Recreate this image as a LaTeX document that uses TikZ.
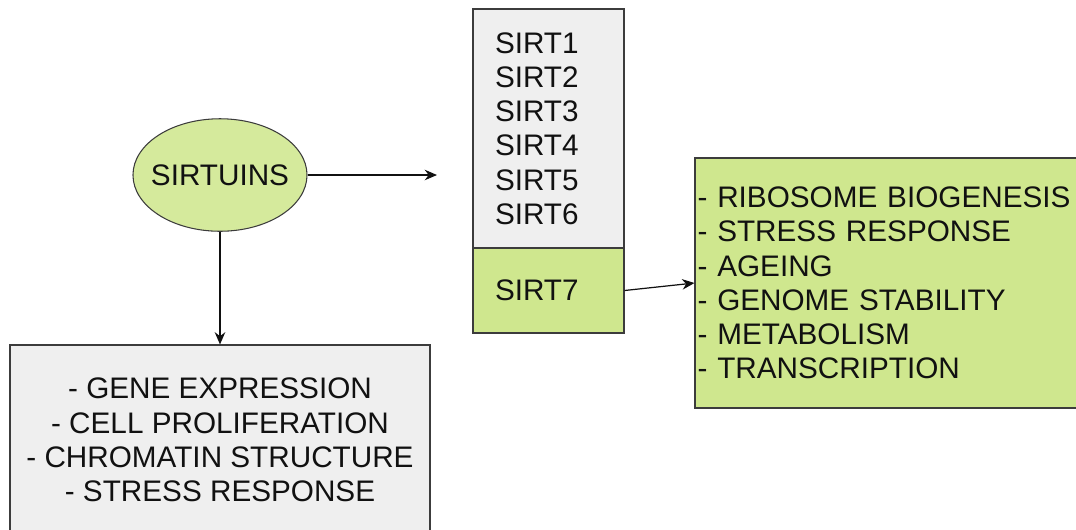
\documentclass[tikz,border=0pt]{standalone}
\usepackage{fontspec}
\setmainfont{Liberation Sans}
\usepackage{tikz}
\usetikzlibrary{shapes.geometric, arrows.meta, positioning}
\usepackage{xcolor}
\definecolor{SirtGreen}{HTML}{CFE78E}
\definecolor{SirtLightGreen}{HTML}{D5EA9C}
\definecolor{SirtGrey}{HTML}{EFEFEF}
\definecolor{SirtBorder}{HTML}{3C3C3C}
\definecolor{SirtText}{HTML}{111111}
\tikzset{
    % Node styles
    sirtellipse/.style={
        ellipse,
        draw=SirtBorder,
        fill=SirtLightGreen,
        line width=0.6pt,
        minimum width=3.48cm,
        minimum height=2.25cm,
        inner xsep=-0.15cm,
        inner ysep=0pt,
        text=SirtText,
        font=\fontsize{16.9}{19.5}\selectfont
    },
    greybox/.style={
        rectangle,
        draw=SirtBorder,
        fill=SirtGrey,
        line width=0.6pt,
        text=SirtText,
        font=\fontsize{16.9}{19.5}\selectfont
    },
    greenbox/.style={
        rectangle,
        draw=SirtBorder,
        fill=SirtGreen,
        line width=0.6pt,
        text=SirtText,
        font=\fontsize{16.9}{19.5}\selectfont
    },
    % Arrow styles
    myarrow/.style={
        -{Stealth[length=7pt,width=6pt]},
        line width=0.7pt,
        SirtText
    }
}

\begin{document}
\begin{tikzpicture}
    \useasboundingbox (0,0) rectangle (21.52,-10.58);

    % Sirtuins
    \node[sirtellipse] (sirtuins) at (4.4,-3.5) {SIRTUINS};

    % Members
    \node[greybox, minimum width=3.02cm, minimum height=4.78cm, text width=2.14cm,
          inner xsep=0.44cm, align=left] (members) at (10.97,-2.57)
          {SIRT1\\SIRT2\\SIRT3\\SIRT4\\SIRT5\\SIRT6};
    \node[greenbox, minimum width=3.02cm, minimum height=1.7cm, text width=2.14cm,
          inner xsep=0.44cm, align=left] (sirt7) at (10.97,-5.81) {SIRT7};

    % General functions
    \node[greybox, minimum width=8.4cm, minimum height=3.8cm, align=center]
          (functions) at (4.4,-8.8)
          {- GENE EXPRESSION\\- CELL PROLIFERATION\\- CHROMATIN STRUCTURE\\- STRESS RESPONSE};

    % SIRT7 functions
    \node[greenbox, minimum width=8.2cm, minimum height=5cm, text width=8.1cm,
          inner xsep=0.05cm, align=left] (targets) at (18.0,-5.66)
          {- RIBOSOME BIOGENESIS\\- STRESS RESPONSE\\- AGEING\\- GENOME STABILITY\\- METABOLISM\\- TRANSCRIPTION};

    % Connectors
    \coordinate (sirtend) at (8.74,-3.5);
    \draw[myarrow] (sirtuins) -- (sirtend);
    \draw[myarrow] (sirtuins.south) -- (sirtuins.south |- functions.north);
    \draw[myarrow] (sirt7.east) -- (targets.west);
\end{tikzpicture}
\end{document}
